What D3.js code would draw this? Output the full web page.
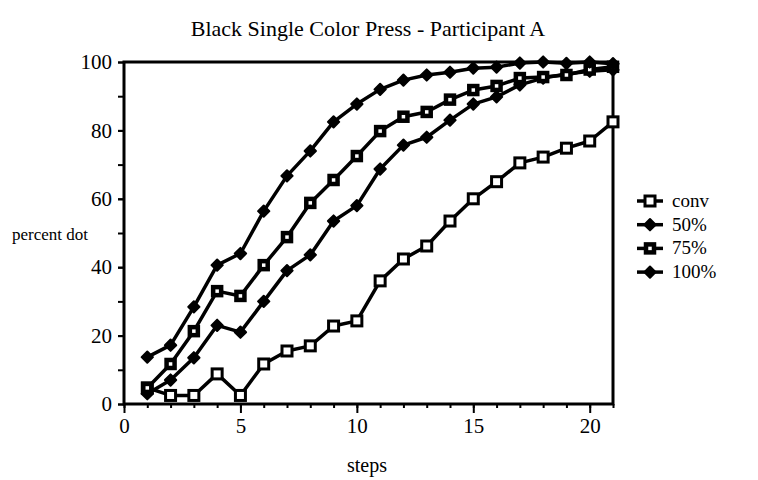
<!DOCTYPE html>
<html>
<head>
<meta charset="utf-8">
<title>Black Single Color Press - Participant A</title>
<style>
  body { margin: 0; background: #fff; }
</style>
</head>
<body>
<script src="https://cdn.jsdelivr.net/npm/d3@7/dist/d3.min.js"></script>
<script>
// data
var steps = d3.range(1, 22);
var conv = [4.7, 2.5, 2.5, 8.8, 2.5, 11.7, 15.5, 17, 22.8, 24.3, 36, 42.4, 46.2, 53.5, 60, 65, 70.5, 72.2, 74.8, 76.9, 82.5];
var p50  = [3, 7, 13.5, 23, 21, 30, 39, 43.6, 53.5, 58, 68.7, 75.7, 78, 83, 87.7, 89.8, 93.3, 95.3, 96.5, 97.3, 97.7];
var p75  = [4.7, 11.7, 21.3, 33, 31.6, 40.6, 48.8, 58.8, 65.5, 72.5, 79.8, 84, 85.4, 89, 91.8, 93, 95.3, 95.6, 96.2, 97.8, 98.6];
var p100 = [13.7, 17.2, 28.4, 40.6, 44, 56.4, 66.7, 74, 82.5, 87.7, 92, 94.7, 96.2, 97, 98.2, 98.5, 99.7, 100, 99.6, 100, 99.5];
var seriesNames = ["conv", "50%", "75%", "100%"];
var markerTypes = ["square", "diamond", "dotsquare", "diamond"];
var xTicks = [0, 5, 10, 15, 20];
var yTicks = [0, 20, 40, 60, 80, 100];

var serif = "'Liberation Serif', 'DejaVu Serif', serif";

var W = 758, H = 480;
var margin = {top: 62, right: 145, bottom: 76, left: 124};
var width = W - margin.left - margin.right,
    height = H - margin.top - margin.bottom;

var svg = d3.select("body").append("svg")
  .attr("width", W).attr("height", H)
  .attr("font-family", serif);

var chart = svg.append("g")
  .attr("transform", "translate(" + margin.left + "," + margin.top + ")");

var x = d3.scaleLinear().domain([0, 21]).range([0, width]);
var y = d3.scaleLinear().domain([0, 100]).range([height, 0]);

// frame
chart.append("rect")
  .attr("x", 0).attr("y", 0).attr("width", width).attr("height", height)
  .attr("fill", "none").attr("stroke", "#000").attr("stroke-width", 3);

// x axis: minor ticks every step, major every 5
var xMinor = chart.append("g").attr("transform", "translate(0," + height + ")")
  .call(d3.axisBottom(x).tickValues(d3.range(0, 22)).tickSize(4).tickFormat(""));
var xMajor = chart.append("g").attr("transform", "translate(0," + height + ")")
  .call(d3.axisBottom(x).tickValues(xTicks).tickSize(9).tickPadding(5).tickFormat(d3.format("d")));

// y axis: ticks every 10, labels every 20
var yMinor = chart.append("g")
  .call(d3.axisLeft(y).tickValues(d3.range(0, 101, 10)).tickSize(6).tickFormat(""));
var yMajor = chart.append("g")
  .call(d3.axisLeft(y).tickValues(yTicks).tickSize(6).tickPadding(6).tickFormat(d3.format("d")));

[xMinor, xMajor, yMinor, yMajor].forEach(function(g){
  g.attr("font-family", serif).attr("font-size", 21);
  g.select(".domain").remove();
  g.selectAll("line").attr("stroke-width", 2);
});

// marker drawing
function drawMarker(sel, type) {
  if (type === "square") {
    sel.append("rect").attr("x", -5).attr("y", -5).attr("width", 10).attr("height", 10)
      .attr("fill", "#fff").attr("stroke", "#000").attr("stroke-width", 3);
  } else if (type === "dotsquare") {
    sel.append("rect").attr("x", -4).attr("y", -4).attr("width", 8).attr("height", 8)
      .attr("fill", "#fff").attr("stroke", "#000").attr("stroke-width", 4.5);
  } else {
    sel.append("rect").attr("x", -4).attr("y", -4).attr("width", 8).attr("height", 8)
      .attr("transform", "rotate(45)")
      .attr("fill", "#000").attr("stroke", "#000").attr("stroke-width", 2).attr("stroke-linejoin", "round");
  }
}

var allSeries = [conv, p50, p75, p100];
var line = d3.line().x(function(d, i){ return x(steps[i]); }).y(function(d){ return y(d); });

allSeries.forEach(function(vals){
  chart.append("path").datum(vals)
    .attr("d", line).attr("fill", "none").attr("stroke", "#000")
    .attr("stroke-width", 3.5).attr("stroke-linejoin", "round");
});
allSeries.forEach(function(vals, k){
  chart.selectAll(null).data(vals).enter().append("g")
    .attr("transform", function(d, i){ return "translate(" + x(steps[i]) + "," + y(d) + ")"; })
    .each(function(){ drawMarker(d3.select(this), markerTypes[k]); });
});

// title and axis labels
svg.append("text").attr("x", 368).attr("y", 36).attr("text-anchor", "middle")
  .attr("font-size", 22).text("Black Single Color Press - Participant A");
svg.append("text").attr("x", 50).attr("y", 240).attr("text-anchor", "middle")
  .attr("font-size", 17).text("percent dot");
svg.append("text").attr("x", 367).attr("y", 472).attr("text-anchor", "middle")
  .attr("font-size", 20).text("steps");

// legend
var legend = svg.append("g").selectAll("g").data(seriesNames).enter().append("g")
  .attr("transform", function(d, i){ return "translate(650," + (201 + i * 23.7) + ")"; });
legend.append("line").attr("x1", -13).attr("x2", 13)
  .attr("stroke", "#000").attr("stroke-width", 3.5);
legend.each(function(d, i){ drawMarker(d3.select(this), markerTypes[i]); });
legend.append("text").attr("x", 22).attr("y", 6).attr("font-size", 19)
  .text(function(d){ return d; });
</script>
</body>
</html>
